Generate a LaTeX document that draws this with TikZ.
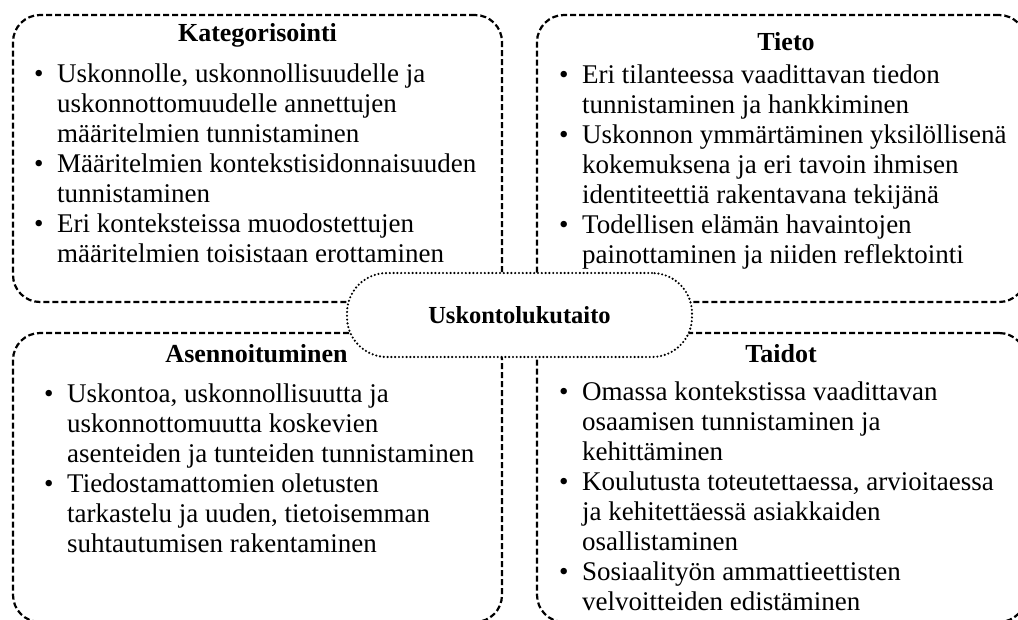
\documentclass[tikz,border=0pt]{standalone}
\usepackage{fontspec}
\setmainfont{Liberation Serif}
\newcommand\bul{\makebox[23pt][l]{\textbullet}}
\begin{document}
\begin{tikzpicture}[x=1pt,y=-1pt,
  box/.style={draw, line width=2.2pt, dash pattern=on 6pt off 3pt, rounded corners=27pt, inner sep=0pt},
  hub/.style={draw, fill=white, line width=2.4pt, dash pattern=on 0pt off 3.8pt, line cap=round,
    rounded corners=40pt, minimum width=345pt, minimum height=84pt, inner sep=0pt,
    font=\fontsize{24.5}{28}\selectfont\bfseries},
  ttl/.style={anchor=base, inner sep=0pt, font=\fontsize{26}{30}\selectfont\bfseries},
  body/.style={anchor=base west, inner sep=0pt, align=left, font=\fontsize{27}{30}\selectfont}]
\useasboundingbox (0,0) rectangle (1018,619);
\clip (0,0) rectangle (1018,619);
% boxes
\node[box, minimum width=489pt, minimum height=287pt] (tl) at (257.5,158.5) {};
\node[box, minimum width=489pt, minimum height=287pt] (tr) at (781.5,158.5) {};
\node[box, minimum width=489pt, minimum height=289pt] (bl) at (257.5,477.5) {};
\node[box, minimum width=489pt, minimum height=289pt] (br) at (781.5,477.5) {};
% titles
\node[ttl] (tlt) at (257.5,41) {Kategorisointi};
\node[ttl] (trt) at (786,50) {Tieto};
\node[ttl] (blt) at (256.5,362) {Asennoituminen};
\node[ttl] (brt) at (781,362) {Taidot};
% bodies
\node[body] (tlb) at (34,82) {\begin{tabular}[t]{@{}l@{}l@{}}
\bul & Uskonnolle, uskonnollisuudelle ja\\
 & uskonnottomuudelle annettujen\\
 & määritelmien tunnistaminen\\
\bul & Määritelmien kontekstisidonnaisuuden\\
 & tunnistaminen\\
\bul & Eri konteksteissa muodostettujen\\
 & määritelmien toisistaan erottaminen
\end{tabular}};
\node[body] (trb) at (559,83) {\begin{tabular}[t]{@{}l@{}l@{}}
\bul & Eri tilanteessa vaadittavan tiedon\\
 & tunnistaminen ja hankkiminen\\
\bul & Uskonnon ymmärtäminen yksilöllisenä\\
 & kokemuksena ja eri tavoin ihmisen\\
 & identiteettiä rakentavana tekijänä\\
\bul & Todellisen elämän havaintojen\\
 & painottaminen ja niiden reflektointi
\end{tabular}};
\node[body] (blb) at (44,402) {\begin{tabular}[t]{@{}l@{}l@{}}
\bul & Uskontoa, uskonnollisuutta ja\\
 & uskonnottomuutta koskevien\\
 & asenteiden ja tunteiden tunnistaminen\\
\bul & Tiedostamattomien oletusten\\
 & tarkastelu ja uuden, tietoisemman\\
 & suhtautumisen rakentaminen
\end{tabular}};
\node[body] (brb) at (559,400) {\begin{tabular}[t]{@{}l@{}l@{}}
\bul & Omassa kontekstissa vaadittavan\\
 & osaamisen tunnistaminen ja\\
 & kehittäminen\\
\bul & Koulutusta toteutettaessa, arvioitaessa\\
 & ja kehitettäessä asiakkaiden\\
 & osallistaminen\\
\bul & Sosiaalityön ammattieettisten\\
 & velvoitteiden edistäminen
\end{tabular}};
% hub
\node[hub] (hub) at (519.5,315) {Uskontolukutaito};
\end{tikzpicture}
\end{document}
